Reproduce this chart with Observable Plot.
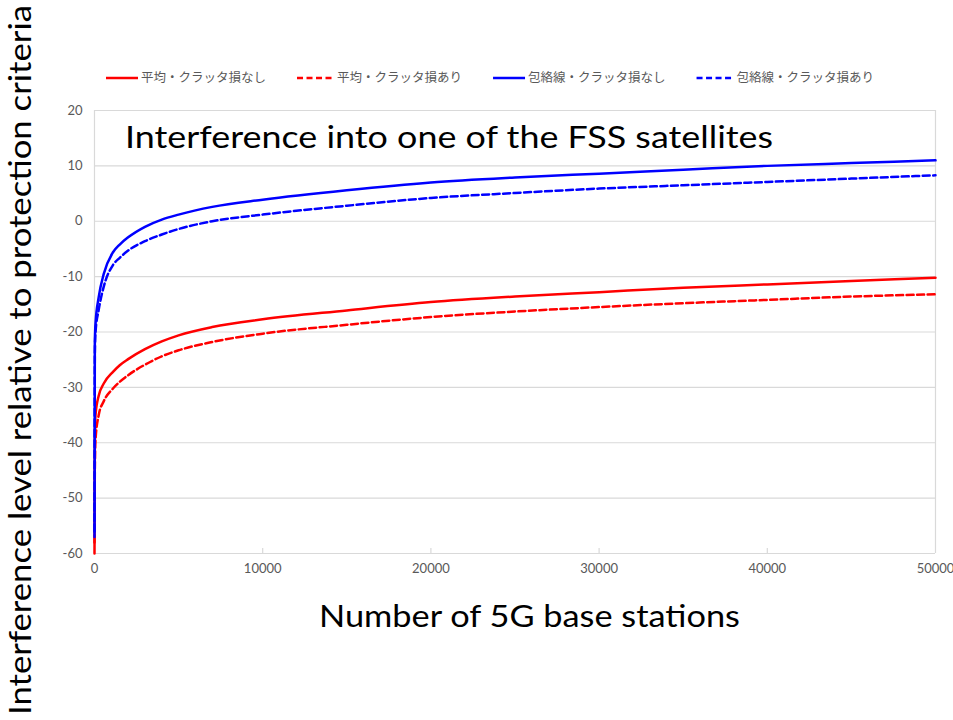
<!DOCTYPE html>
<html><head><meta charset="utf-8">
<script src="https://cdn.jsdelivr.net/npm/d3@7"></script>
<script src="https://cdn.jsdelivr.net/npm/@observablehq/plot@0.6"></script>
<style>body{margin:0;background:#fff}#chart svg{display:block}</style>
</head><body><div id="chart"></div>
<script>
// ---- data ----
const stations     = [0, 20, 60, 250, 550, 1100, 1500, 2000, 3000, 4000, 5000, 7000, 10000, 15000, 20000, 25000, 30000, 35000, 40000, 45000, 50000];
const avgNoClutter = [-60, -40, -35, -31.5, -29.3, -27.2, -26.0, -24.9, -23.1, -21.7, -20.6, -19.1, -17.7, -16.1, -14.6, -13.6, -12.8, -12.0, -11.4, -10.8, -10.2];
const avgClutter   = [-58, -45, -39.5, -35, -32.5, -30.2, -29.0, -27.8, -25.9, -24.4, -23.3, -21.8, -20.3, -18.7, -17.3, -16.3, -15.5, -14.8, -14.2, -13.6, -13.2];
const envNoClutter = [-57, -22, -18.5, -13.7, -9.5, -5.6, -4.2, -2.9, -1.0, 0.3, 1.2, 2.6, 3.9, 5.6, 7.0, 7.9, 8.6, 9.3, 10.0, 10.5, 11.0];
const envClutter   = [-56, -24, -20, -16, -11.8, -7.9, -6.6, -5.3, -3.6, -2.4, -1.4, 0.0, 1.2, 2.8, 4.2, 5.1, 5.9, 6.5, 7.1, 7.7, 8.3];
const seriesNames  = ["平均・クラッタ損なし", "平均・クラッタ損あり", "包絡線・クラッタ損なし", "包絡線・クラッタ損あり"];
const seriesColors = ["#ff0000", "#ff0000", "#0000ff", "#0000ff"];
const seriesDashed = [false, true, false, true];
const xTicks = [0, 10000, 20000, 30000, 40000, 50000];
const yTicks = [-60, -50, -40, -30, -20, -10, 0, 10, 20];
const titleText = "Interference into one of the FSS satellites";
const xLabel = "Number of 5G base stations";
const yLabel = "Interference level relative to protection criteria";

// ---- build table ----
const valueSets = [avgNoClutter, avgClutter, envNoClutter, envClutter];
const rows = seriesNames.flatMap((name, i) =>
  stations.map((s, j) => ({series: name, x: s, y: valueSets[i][j]})));

const DASH = "7,3.5";
const lineMarks = seriesNames.map((name, i) =>
  Plot.line(rows.filter(r => r.series === name), {
    x: "x", y: "y", stroke: seriesColors[i], strokeWidth: 2.5,
    strokeDasharray: seriesDashed[i] ? DASH : null, curve: "monotone-x"
  }));

const chart = Plot.plot({
  width: 953, height: 720,
  marginLeft: 94, marginRight: 18, marginTop: 110, marginBottom: 167,
  style: {fontFamily: "Lato, 'Open Sans', sans-serif", fontSize: "13px", color: "#595959", background: "#fff"},
  x: {domain: [0, 50000]},
  y: {domain: [-60, 20]},
  marks: [
    Plot.ruleY(yTicks, {stroke: "#d9d9d9", strokeWidth: 1.2}),
    Plot.ruleX([0, 50000], {stroke: "#d9d9d9", strokeWidth: 1.2}),
    Plot.ruleX(xTicks.slice(1, -1), {x: d => d, y1: -60, y2: -59.1, stroke: "#d9d9d9", strokeWidth: 1.2}),
    Plot.axisX({ticks: xTicks, tickFormat: d => String(d), tickSize: 0, tickPadding: 10, label: null}),
    Plot.axisY({ticks: yTicks, tickFormat: d => String(d), tickSize: 0, tickPadding: 12, label: null}),
    ...lineMarks
  ]
});
document.getElementById("chart").appendChild(chart);

const svg = d3.select(chart);

// title inside plot
svg.append("text").attr("x", 125).attr("y", 148).attr("text-anchor", "start")
  .attr("font-family", "Lato, sans-serif").attr("font-size", 30).attr("fill", "#000")
  .attr("textLength", 648).attr("lengthAdjust", "spacingAndGlyphs").text(titleText);

// x label
svg.append("text").attr("x", 529.5).attr("y", 627).attr("text-anchor", "middle")
  .attr("font-family", "Lato, sans-serif").attr("font-size", 30).attr("fill", "#000")
  .attr("textLength", 421).attr("lengthAdjust", "spacingAndGlyphs").text(xLabel);

// y label
svg.append("text").attr("transform", "translate(31,360) rotate(-90)").attr("text-anchor", "middle")
  .attr("font-family", "Lato, sans-serif").attr("font-size", 30).attr("fill", "#000")
  .attr("textLength", 710).attr("lengthAdjust", "spacingAndGlyphs").text(yLabel);

// legend
const lg = svg.append("g").attr("font-family", "'Noto Sans CJK JP', sans-serif").attr("font-size", 12.5)
  .attr("fill", "#595959").attr("text-anchor", "start");
let cx = 106;
seriesNames.forEach((name, i) => {
  const len = seriesDashed[i] ? 37 : 32;
  lg.append("line").attr("x1", cx).attr("x2", cx + len).attr("y1", 78).attr("y2", 78)
    .attr("stroke", seriesColors[i]).attr("stroke-width", 2.5)
    .attr("stroke-dasharray", seriesDashed[i] ? "6,3.5" : null);
  const t = lg.append("text").attr("x", cx + len + 3).attr("y", 78).attr("dy", "0.35em").text(name);
  const w = t.node().getComputedTextLength();
  cx = cx + len + 3 + w + 31;
});
</script>
</body></html>
